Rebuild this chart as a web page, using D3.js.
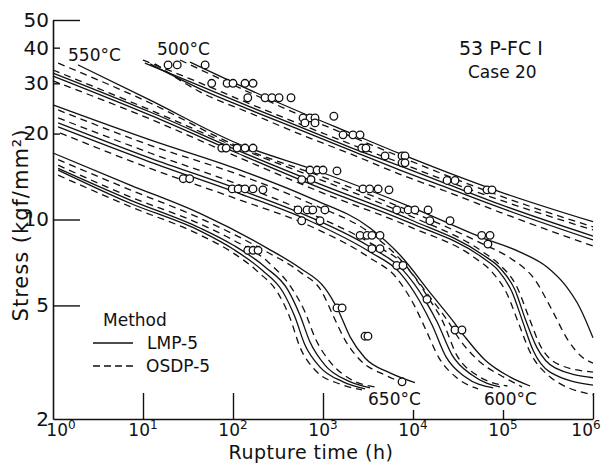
<!DOCTYPE html>
<html>
<head>
<meta charset="utf-8">
<script src="https://cdn.jsdelivr.net/npm/d3@7"></script>
<style>
  body { margin: 0; background: #fff; }
  svg text { font-family: "DejaVu Sans", sans-serif; fill: #111; }
</style>
</head>
<body>
<svg id="chart" width="601" height="465"></svg>
<script>
// axis ticks
const timeTicks = [1, 10, 100, 1000, 10000, 100000, 1000000];
const timeExps = ['0', '1', '2', '3', '4', '5', '6'];
const stressTicks = [2, 5, 10, 20, 30, 40, 50];
const longStressTicks = [5, 10, 50];
const longTimeTicks = [10, 100, 1000, 1000000];

// fitted curves [time h, stress kgf/mm2], LMP-5 solid, OSDP-5 dashed
const lmp500 = [
  [[33.3, 35.6], [155, 28.4], [555, 23.8], [2000, 20.1], [7170, 17.0], [25800, 14.5], [92600, 12.5], [1e6, 9.82]],
  [[10.5, 35.3], [43, 29.4], [155, 24.8], [555, 21.1], [2000, 17.9], [7170, 15.4], [25800, 13.2], [92600, 11.3], [1e6, 8.75]],
  [[12, 35.1], [43, 28.7], [155, 24.2], [555, 20.6], [2000, 17.5], [7170, 14.9], [25800, 12.8], [92600, 11.0], [1e6, 8.48]],
];
const osdp500 = [
  [[25.8, 36.2], [155, 27.8], [555, 23.2], [2000, 19.6], [7170, 16.6], [25800, 14.1], [92600, 12.1], [1e6, 9.42]],
  [[10, 36.2], [43, 30.1], [155, 25.4], [555, 21.6], [2000, 18.4], [7170, 15.8], [25800, 13.5], [92600, 11.7], [1e6, 9.19]],
  [[13.6, 35.1], [43, 28.0], [155, 23.6], [555, 19.9], [2000, 17.0], [7170, 14.4], [25800, 12.4], [92600, 10.6], [1e6, 8.07]],
];
const lmp550 = [
  [[1.9, 34.8], [12, 26.2], [111, 18.5], [926, 14.7], [9260, 11.1], [60000, 8.61], [155000, 7.69], [308000, 6.82], [489000, 5.90], [717000, 4.90], [1e6, 3.85]],
  [[1, 32.6], [12, 23.8], [111, 17.5], [926, 13.3], [9260, 10.0], [60000, 7.51], [92600, 6.76], [136000, 5.66], [175000, 4.52], [239000, 3.55], [379000, 3.02], [1e6, 2.79]],
  [[1, 31.8], [12, 23.2], [111, 17.1], [926, 12.9], [9260, 9.73], [60000, 7.33], [88000, 6.65], [126000, 5.57], [163000, 4.45], [215000, 3.49], [333000, 2.92], [1e6, 2.63]],
];
const osdp550 = [
  [[1.14, 35.3], [12, 25.6], [111, 18.1], [926, 14.2], [9260, 10.7], [60000, 8.20], [120000, 7.33], [227000, 6.14], [350000, 4.82], [527000, 3.78], [755000, 3.30], [1e6, 3.14]],
  [[1, 33.4], [12, 24.2], [111, 17.9], [926, 13.8], [9260, 10.3], [60000, 7.69], [92600, 6.93], [143000, 5.80], [190000, 4.62], [258000, 3.63], [430000, 3.09], [1e6, 2.92]],
  [[1, 30.6], [12, 22.5], [111, 16.6], [926, 12.5], [9260, 9.42], [48900, 7.33], [75500, 6.55], [111000, 5.48], [147000, 4.38], [200000, 3.43], [316000, 2.85], [1e6, 2.43]],
];
const lmp600 = [
  [[1, 25.2], [12, 19.0], [120, 14.9], [717, 11.9], [3330, 9.34], [7170, 7.51], [16300, 5.43], [27200, 4.45], [37800, 3.88], [63100, 3.22], [119000, 2.81], [200000, 2.61]],
  [[1.14, 21.8], [12, 16.4], [120, 12.7], [717, 10.2], [3330, 8.01], [7740, 6.65], [13600, 5.22], [18500, 4.38], [27200, 3.35], [45300, 2.85], [92600, 2.59]],
  [[1.14, 21.1], [12, 15.9], [120, 12.3], [717, 9.88], [3330, 7.69], [7170, 6.50], [12000, 5.14], [16300, 4.27], [23300, 3.30], [37800, 2.81], [77800, 2.57]],
];
const osdp600 = [
  [[1.14, 24.2], [12, 18.2], [120, 14.3], [717, 11.4], [3330, 8.97], [7170, 7.27], [15400, 5.35], [23900, 4.45], [33300, 3.78], [55500, 3.17], [105000, 2.79], [163000, 2.59]],
  [[1.14, 22.7], [12, 17.1], [120, 13.2], [717, 10.5], [3330, 8.28], [8450, 6.82], [15400, 5.22], [21000, 4.45], [30600, 3.35], [51000, 2.85], [112000, 2.61]],
  [[1.2, 20.1], [12, 15.1], [120, 11.7], [717, 9.49], [3330, 7.33], [6430, 6.29], [10300, 5.01], [13600, 4.17], [19500, 3.27], [30600, 2.79], [52800, 2.55]],
];
const lmp650 = [
  [[1, 17.1], [7.2, 13.2], [43, 10.5], [239, 7.94], [555, 6.76], [1050, 5.75], [1470, 4.82], [2000, 3.88], [2930, 3.27], [5550, 2.90], [10500, 2.68]],
  [[1.14, 15.1], [7.2, 11.7], [43, 9.34], [100, 8.14], [227, 6.82], [408, 5.66], [555, 4.62], [717, 3.72], [1050, 3.09], [1900, 2.72], [3330, 2.57]],
  [[1.14, 14.9], [7.2, 11.4], [43, 9.12], [100, 7.88], [210, 6.65], [359, 5.57], [488, 4.55], [631, 3.63], [926, 3.04], [1670, 2.70], [2930, 2.55]],
];
const osdp650 = [
  [[1.14, 16.2], [7.2, 12.7], [43, 10.1], [239, 7.69], [555, 6.55], [975, 5.57], [1290, 4.62], [1760, 3.78], [2580, 3.22], [4890, 2.85], [9260, 2.63]],
  [[1.14, 15.5], [7.2, 12.0], [43, 9.65], [100, 8.48], [245, 7.10], [464, 5.66], [631, 4.74], [815, 3.85], [1200, 3.17], [2100, 2.74], [3790, 2.59]],
  [[1.14, 14.3], [7.2, 11.1], [43, 8.83], [100, 7.64], [190, 6.55], [316, 5.52], [430, 4.52], [555, 3.57], [815, 2.97], [1550, 2.65], [2710, 2.53]],
];

// test results
const obs500 = [[19, 34.8], [24, 34.8], [49, 34.8], [58, 30], [86, 30], [100, 30], [136, 30], [167, 30], [146, 26.7], [227, 26.7], [271, 26.7], [325, 26.7], [441, 26.7], [600, 22.7], [717, 22.7], [815, 22.7], [630, 21.8], [815, 21.8], [1320, 23], [1670, 19.8], [2150, 19.8], [2580, 19.8], [2700, 17.8], [3000, 17.8], [4890, 16.7], [7550, 16.7], [8150, 16.7], [7550, 15.8], [8150, 15.8], [23900, 13.7], [29300, 13.7], [40800, 12.7], [66400, 12.7], [75500, 12.7]];
const obs550 = [[75, 17.8], [84, 17.8], [111, 17.8], [136, 17.8], [167, 17.8], [717, 14.9], [860, 14.9], [1000, 14.9], [1430, 14.8], [580, 13.8], [735, 13.8], [2780, 12.8], [3300, 12.8], [4100, 12.8], [5410, 12.7], [6600, 10.8], [8830, 10.8], [10500, 10.8], [14700, 10.8], [15400, 9.9], [25800, 9.9], [58000, 8.8], [71700, 8.8], [68000, 8.2]];
const obs600 = [[28, 13.9], [33, 13.9], [98, 12.8], [114, 12.8], [136, 12.8], [167, 12.8], [215, 12.7], [527, 10.8], [665, 10.8], [770, 10.8], [1050, 10.8], [580, 9.9], [926, 9.9], [2580, 8.8], [3090, 8.8], [3500, 8.8], [4300, 8.8], [3500, 7.9], [4300, 7.9], [6600, 6.9], [7740, 6.9], [14300, 5.25], [29300, 4.1], [35000, 4.1]];
const obs650 = [[146, 7.8], [167, 7.8], [190, 7.8], [1430, 4.9], [1630, 4.9], [2930, 3.9], [3160, 3.9], [7550, 2.7]];

const svg = d3.select('#chart');

const x = d3.scaleLog().domain([1, 1e6]).range([53, 593]);
const y = d3.scaleLog().domain([2, 50]).range([419, 20]);

const line = d3.line()
  .x(d => x(d[0]))
  .y(d => y(d[1]))
  .curve(d3.curveMonotoneX);

// curves
const solid = [...lmp500, ...lmp550, ...lmp600, ...lmp650];
const dashed = [...osdp500, ...osdp550, ...osdp600, ...osdp650];

svg.append('g').selectAll('path').data(solid).join('path')
  .attr('d', line)
  .attr('fill', 'none')
  .attr('stroke', '#111')
  .attr('stroke-width', 1.3);

svg.append('g').selectAll('path').data(dashed).join('path')
  .attr('d', line)
  .attr('fill', 'none')
  .attr('stroke', '#111')
  .attr('stroke-width', 1.3)
  .attr('stroke-dasharray', '7,5');

// data points
const obs = [...obs500, ...obs550, ...obs600, ...obs650];
svg.append('g').selectAll('circle').data(obs).join('circle')
  .attr('cx', d => x(d[0]))
  .attr('cy', d => y(d[1]))
  .attr('r', 3.8)
  .attr('fill', '#fff')
  .attr('stroke', '#111')
  .attr('stroke-width', 1.3);

// y axis
const yAxis = svg.append('g')
  .attr('transform', 'translate(53,0)')
  .call(d3.axisLeft(y).tickValues(stressTicks).tickFormat(d3.format('d'))
    .tickSizeInner(-7).tickSizeOuter(0).tickPadding(4));
yAxis.select('.domain').attr('stroke', '#111').attr('stroke-width', 1.6);
yAxis.selectAll('.tick line')
  .attr('stroke', '#111').attr('stroke-width', 1.4)
  .attr('x2', d => longStressTicks.includes(d) ? 27 : (d === 2 ? 0 : 7));
yAxis.selectAll('.tick text')
  .style('font-size', '20px').attr('fill', '#111');

// x axis
const xAxis = svg.append('g')
  .attr('transform', 'translate(0,419)')
  .call(d3.axisBottom(x).tickValues(timeTicks).tickFormat('')
    .tickSizeInner(-9).tickSizeOuter(0));
xAxis.select('.domain').attr('stroke', '#111').attr('stroke-width', 1.6);
xAxis.selectAll('.tick line')
  .attr('stroke', '#111').attr('stroke-width', 1.4)
  .attr('y2', d => longTimeTicks.includes(d) ? -26 : (d === 1 ? 0 : -9));

const xLabels = svg.append('g').selectAll('text').data(timeTicks).join('text')
  .attr('x', (d, i) => x(d) + (i === 0 ? 8 : (i === 6 ? -7 : 0)))
  .attr('y', 436)
  .attr('text-anchor', 'middle')
  .style('font-size', '17px');
xLabels.append('tspan').text('10');
xLabels.append('tspan').text((d, i) => timeExps[i])
  .attr('dy', -7).style('font-size', '12px');

// axis titles
svg.append('text')
  .attr('x', 311).attr('y', 459)
  .attr('text-anchor', 'middle')
  .style('font-size', '19px')
  .style('letter-spacing', '0.5px')
  .text('Rupture time (h)');

svg.append('text')
  .attr('transform', 'translate(28,225) rotate(-90)')
  .attr('text-anchor', 'middle')
  .style('font-size', '21px')
  .style('letter-spacing', '1px')
  .text('Stress (kgf/mm²)');

// annotations
const notes = [
  { text: '550°C', x: 68, y: 61, size: 17 },
  { text: '500°C', x: 157, y: 55, size: 17 },
  { text: '650°C', x: 368, y: 405, size: 17 },
  { text: '600°C', x: 484, y: 405, size: 17 },
  { text: '53 P-FC I', x: 459, y: 55, size: 19 },
  { text: 'Case 20', x: 468, y: 78, size: 17 },
  { text: 'Method', x: 103, y: 326, size: 17 },
  { text: 'LMP-5', x: 147, y: 349, size: 17 },
  { text: 'OSDP-5', x: 146, y: 372, size: 17 },
];
svg.append('g').selectAll('text').data(notes).join('text')
  .attr('x', d => d.x).attr('y', d => d.y)
  .style('font-size', d => d.size + 'px')
  .text(d => d.text);

// legend samples
const legend = svg.append('g');
legend.append('line')
  .attr('x1', 93).attr('x2', 133).attr('y1', 343).attr('y2', 343)
  .attr('stroke', '#111').attr('stroke-width', 1.3);
legend.append('line')
  .attr('x1', 93).attr('x2', 133).attr('y1', 366).attr('y2', 366)
  .attr('stroke', '#111').attr('stroke-width', 1.3)
  .attr('stroke-dasharray', '7,4');
</script>
</body>
</html>
